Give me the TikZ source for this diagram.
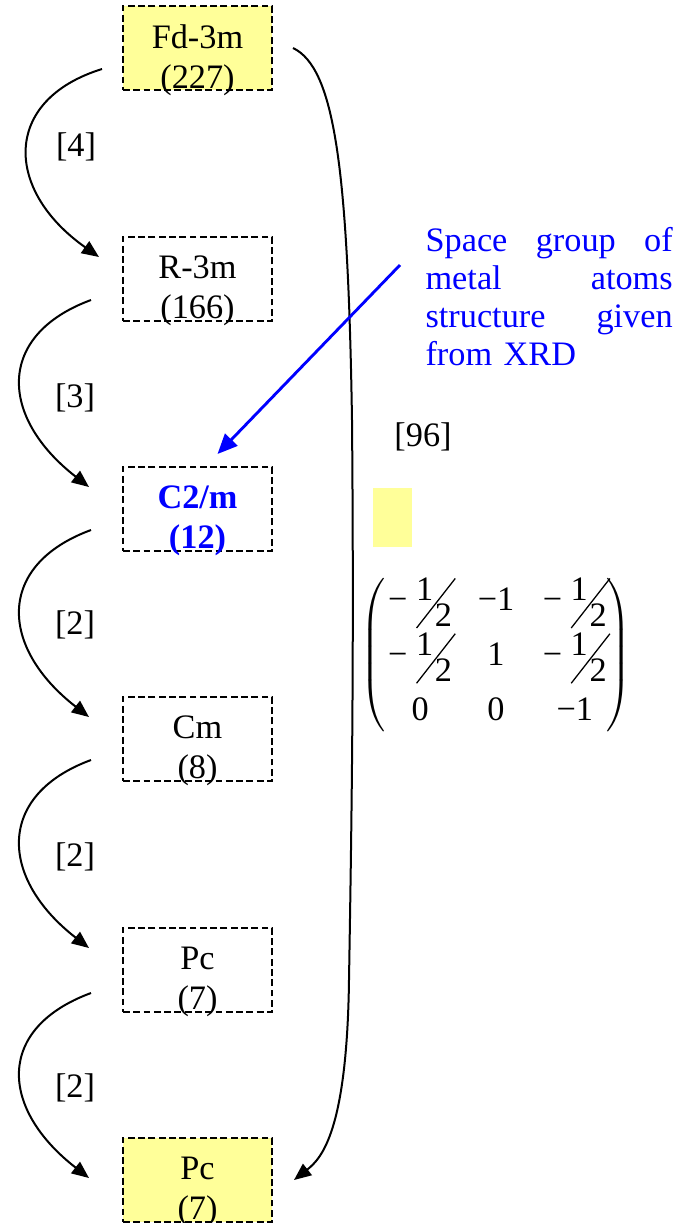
\documentclass[tikz,border=0pt]{standalone}
\usepackage{fontspec}
\setmainfont{Liberation Serif}
\usepackage{graphicx}
\usetikzlibrary{arrows.meta,calc}
\definecolor{sgyellow}{HTML}{FFFF99}
% skewed one half, as in the transformation matrix
\newcommand{\skhalf}{\rlap{\raisebox{3.5pt}{1}}\rlap{\raisebox{-6.3pt}{\rotatebox{52}{\rule{22pt}{0.45pt}}}}\hspace{6.6pt}\raisebox{-5.6pt}{2}}
\newcommand{\mhalf}{−\hspace{3pt}\skhalf}

\begin{document}
\begin{tikzpicture}[x=0.35pt, y=-0.35pt, font=\fontsize{12}{14}\selectfont,
  >={Triangle[length=6pt,width=5pt]},
  sgbox/.style={draw, dash pattern=on 2.4pt off 1.2pt, line width=0.7pt,
    minimum width=52.15pt, minimum height=29.4pt, inner sep=0pt},
  sgtext/.style={align=center, inner sep=0pt},
  steparrow/.style={->, line width=0.7pt},
  xrdarrow/.style={draw=blue, line width=1pt, -{Triangle[length=7pt,width=6pt]}},
  xrdnote/.style={text=blue, text width=86.5pt, align=left, inner sep=0pt,
    font=\fontsize{12}{13.3}\selectfont}]
  \useasboundingbox (0,0) rectangle (680,1223);
  % Space groups (boxes)
  \node[sgbox, fill=sgyellow] (fd) at (197.5,48) {};
  \node[sgtext] (fdt) at ($(fd)+(0,12)$) {Fd-3m\\(227)};
  \node[sgbox] (rm) at (197.5,279) {};
  \node[sgtext] (rmt) at ($(rm)+(0,12)$) {R-3m\\(166)};
  \node[sgbox] (c2m) at (197.5,509) {};
  \node[sgtext, text=blue, font=\fontsize{12}{14}\selectfont\bfseries] (c2mt) at ($(c2m)+(0,12)$) {C2/m\\(12)};
  \node[sgbox] (cm) at (197.5,739) {};
  \node[sgtext] (cmt) at ($(cm)+(0,12)$) {Cm\\(8)};
  \node[sgbox] (pc) at (197.5,970) {};
  \node[sgtext] (pct) at ($(pc)+(0,12)$) {Pc\\(7)};
  \node[sgbox, fill=sgyellow] (pcb) at (197.5,1180) {};
  \node[sgtext] (pcbt) at ($(pcb)+(0,12)$) {Pc\\(7)};
  % Subgroup steps (left)
  \draw[steparrow] ($(fd.west)+(-20,21)$) .. controls +(-100,31) and +(-95,-67) .. ($(rm.west)+(-23,-22)$);
  \foreach \a/\b in {rm/c2m, c2m/cm, cm/pc}
    \draw[steparrow] ($(\a.west)+(-31,21)$) .. controls +(-95,35) and +(-90,-70) .. ($(\b.west)+(-33,-22)$);
  \draw[steparrow] ($(pc.west)+(-31,23)$) .. controls +(-95,35) and +(-90,-70) .. ($(pcb.west)+(-33,-2)$);
  \node (i4) at (76,147) {[4]};
  \node (i3) at (75,398) {[3]};
  \node (i2a) at (75,625) {[2]};
  \node (i2b) at (75,857) {[2]};
  \node (i2c) at (75,1088) {[2]};
  % Direct step (right)
  \draw[steparrow] ($(fd.east)+(20,0)$) .. controls (335,68) and (348,170) .. (352,420)
    .. controls (354,650) and (352,800) .. (349,980)
    .. controls (347,1130) and (322,1158) .. ($(pcb.east)+(21,0)$);
  \node (i96) at (423,437) {[96]};
  \fill[sgyellow] (373,488) rectangle (412,547);
  \node (tmat) at (496,655) {\renewcommand{\arraystretch}{1.33}$\left(\begin{tabular}{@{\hspace{1pt}}c@{\hspace{9pt}}c@{\hspace{10pt}}c@{\hspace{0pt}}}
    \mhalf & −1 & \mhalf\\
    \mhalf & 1 & \mhalf\\
    0 & 0 & −1
  \end{tabular}\right)$};
  % Note from XRD
  \node[xrdnote, anchor=north west] (xrd) at (425,227) {Space\hfill group\hfill of\\metal\hfill atoms\\structure\hfill given\\from XRD};
  \draw[xrdarrow] ($(xrd.north west)+(-25,38)$) -- ($(c2m.north)+(20,-12)$);
\end{tikzpicture}
\end{document}
